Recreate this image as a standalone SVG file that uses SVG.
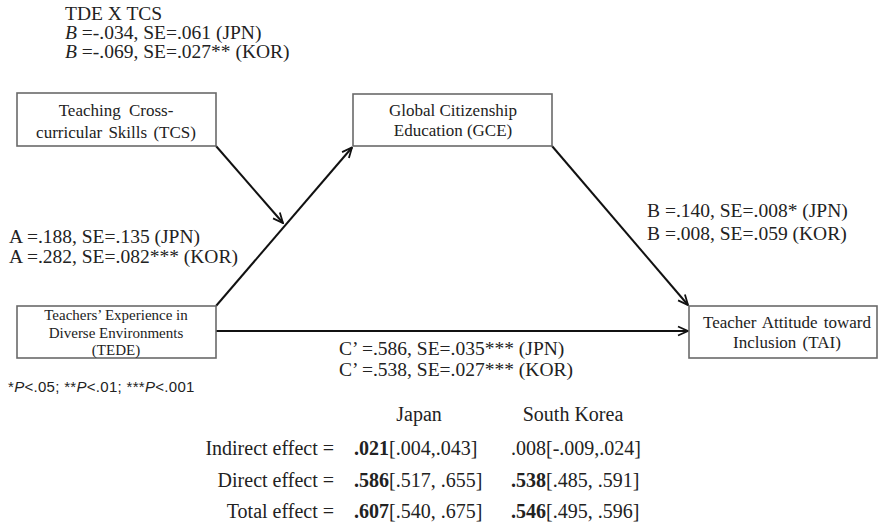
<svg xmlns="http://www.w3.org/2000/svg" width="878" height="525" viewBox="0 0 878 525">
<defs>
<style>
.t{font-family:"Liberation Serif","Times New Roman",serif;fill:#222;}
.lbl{font-size:19.5px;}
.node{font-size:17px;text-anchor:middle;}
.box{fill:#fff;stroke:#6a6a6a;stroke-width:1.6;}
.con{stroke:#111;stroke-width:2;fill:none;marker-end:url(#arr);}
.fn{font-family:"Liberation Sans",Arial,sans-serif;font-size:15px;fill:#222;letter-spacing:0.3px;}
.tb{font-size:20px;}
</style>
<marker id="arr" viewBox="0 0 12 12" refX="11" refY="6" markerWidth="12" markerHeight="12" markerUnits="userSpaceOnUse" orient="auto">
<path d="M1,1.5 L11,6 L1,10.5" fill="none" stroke="#111" stroke-width="1.8"/>
</marker>
</defs>
<rect width="878" height="525" fill="#fff"/>

<g id="connectors">
<line class="con" x1="216" y1="306" x2="352" y2="147.5"/>
<line class="con" x1="216" y1="146" x2="283" y2="223"/>
<line class="con" x1="552" y1="146" x2="688" y2="305"/>
<line class="con" x1="216" y1="331" x2="688" y2="331"/>
</g>

<g id="node-tcs">
<rect class="box" x="17" y="93" width="199" height="53"/>
<text class="t node" x="116" y="116" word-spacing="4">Teaching Cross-</text>
<text class="t node" x="116" y="138" word-spacing="2">curricular Skills (TCS)</text>
</g>

<g id="node-gce">
<rect class="box" x="353" y="94" width="199" height="52"/>
<text class="t node" x="453" y="116">Global Citizenship</text>
<text class="t node" x="453" y="136">Education (GCE)</text>
</g>

<g id="node-tede">
<rect class="box" x="17" y="306" width="199" height="52"/>
<text class="t node" x="116" y="320" style="font-size:15px">Teachers’ Experience in</text>
<text class="t node" x="116" y="338" style="font-size:15px">Diverse Environments</text>
<text class="t node" x="116" y="355" style="font-size:15px">(TEDE)</text>
</g>

<g id="node-tai">
<rect class="box" x="689" y="306" width="188" height="52"/>
<text class="t node" x="787" y="328" word-spacing="2">Teacher Attitude toward</text>
<text class="t node" x="787" y="348" word-spacing="2">Inclusion (TAI)</text>
</g>

<g id="labels">
<text class="t lbl" x="65" y="20">TDE X TCS</text>
<text class="t lbl" x="65" y="39"><tspan font-style="italic">B</tspan> =-.034, SE=.061 (JPN)</text>
<text class="t lbl" x="65" y="58"><tspan font-style="italic">B</tspan> =-.069, SE=.027** (KOR)</text>
<text class="t lbl" x="9" y="243">A =.188, SE=.135 (JPN)</text>
<text class="t lbl" x="9" y="263">A =.282, SE=.082*** (KOR)</text>
<text class="t lbl" x="647" y="217">B =.140, SE=.008* (JPN)</text>
<text class="t lbl" x="647" y="240">B =.008, SE=.059 (KOR)</text>
<text class="t lbl" x="339" y="355">C’ =.586, SE=.035*** (JPN)</text>
<text class="t lbl" x="339" y="376">C’ =.538, SE=.027*** (KOR)</text>
<text class="fn" x="8" y="392">*<tspan font-style="italic">P</tspan>&lt;.05; **<tspan font-style="italic">P</tspan>&lt;.01; ***<tspan font-style="italic">P</tspan>&lt;.001</text>
</g>

<g id="table">
<text class="t tb" x="419" y="421" text-anchor="middle">Japan</text>
<text class="t tb" x="573" y="421" text-anchor="middle">South Korea</text>
<text class="t tb" x="334" y="455" text-anchor="end">Indirect effect =</text>
<text class="t tb" x="334" y="487" text-anchor="end">Direct effect =</text>
<text class="t tb" x="334" y="518" text-anchor="end">Total effect =</text>
<text class="t tb" x="354" y="455"><tspan font-weight="bold">.021</tspan>[.004,.043]</text>
<text class="t tb" x="354" y="487"><tspan font-weight="bold">.586</tspan>[.517, .655]</text>
<text class="t tb" x="354" y="518"><tspan font-weight="bold">.607</tspan>[.540, .675]</text>
<text class="t tb" x="511" y="455">.008[-.009,.024]</text>
<text class="t tb" x="511" y="487"><tspan font-weight="bold">.538</tspan>[.485, .591]</text>
<text class="t tb" x="511" y="518"><tspan font-weight="bold">.546</tspan>[.495, .596]</text>
</g>
</svg>
